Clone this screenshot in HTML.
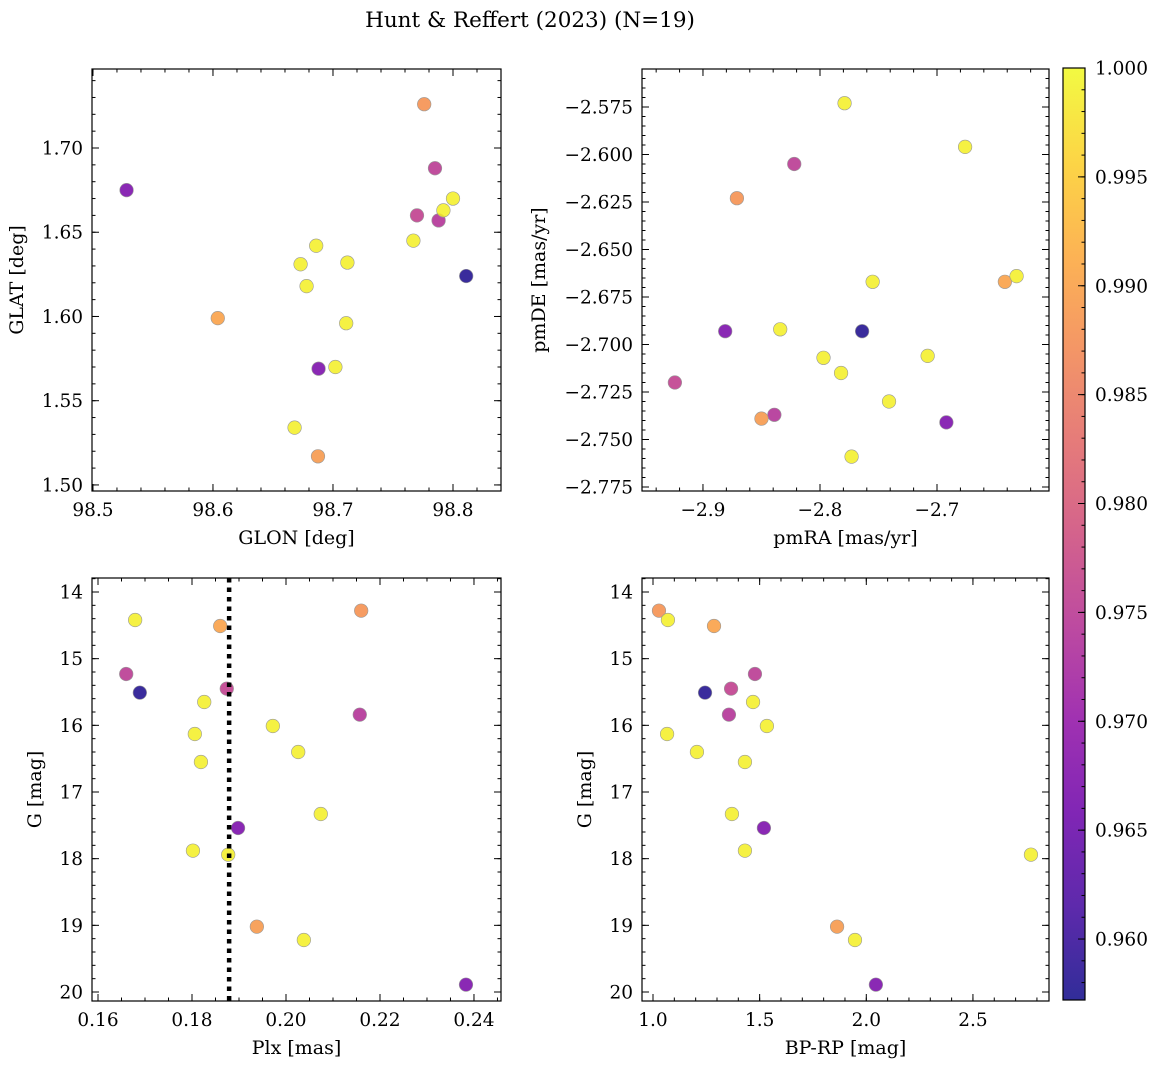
<!DOCTYPE html>
<html><head><meta charset="utf-8">
<style>
html,body{margin:0;padding:0;background:#fff;}
svg{display:block;font-family:"DejaVu Serif","Liberation Serif",serif;}
</style></head>
<body>
<svg id="fig" width="1161" height="1068" viewBox="0 0 1161 1068">
<text x="530" y="27" font-size="21.5" text-anchor="middle">Hunt &amp; Reffert (2023) (N=19)</text>
</svg>
<script>
// ---- data ----
const prob = [0.958,0.967,0.967,0.975,0.976,0.974,0.988,0.990,0.989,0.999,0.999,0.999,0.999,0.999,0.999,0.999,0.999,0.999,0.999];
const glon = [98.811,98.528,98.688,98.785,98.770,98.788,98.776,98.604,98.6875,98.800,98.792,98.767,98.686,98.673,98.712,98.678,98.711,98.702,98.668];
const glat = [1.624,1.675,1.569,1.688,1.660,1.657,1.726,1.599,1.517,1.670,1.663,1.645,1.642,1.631,1.632,1.618,1.596,1.570,1.534];
const pmra = [-2.764,-2.881,-2.692,-2.822,-2.924,-2.839,-2.871,-2.642,-2.850,-2.779,-2.676,-2.755,-2.632,-2.834,-2.797,-2.782,-2.708,-2.741,-2.773];
const pmde = [-2.693,-2.693,-2.741,-2.605,-2.720,-2.737,-2.623,-2.667,-2.739,-2.573,-2.596,-2.667,-2.664,-2.692,-2.707,-2.715,-2.706,-2.730,-2.759];
const plx  = [0.1689,0.1898,0.2383,0.1660,0.1874,0.2157,0.2160,0.1860,0.1938,0.1679,0.1826,0.1972,0.1806,0.2026,0.1819,0.2074,0.1802,0.1877,0.2038];
const gmag = [15.51,17.54,19.89,15.23,15.45,15.84,14.28,14.51,19.02,14.42,15.65,16.01,16.13,16.40,16.55,17.33,17.88,17.94,19.22];
const bprp = [1.244,1.520,2.045,1.478,1.366,1.356,1.028,1.286,1.863,1.070,1.469,1.534,1.066,1.206,1.431,1.370,1.431,2.772,1.947];
const meanPlx = 0.1879;
const cbTicks = [0.960,0.965,0.970,0.975,0.980,0.985,0.990,0.995,1.000];
const vmin = 0.9572, vmax = 1.0;

const NS="http://www.w3.org/2000/svg";
const svg=document.getElementById('fig');
function mk(tag,attrs,parent){const e=document.createElementNS(NS,tag);for(const k in attrs)e.setAttribute(k,attrs[k]);(parent||svg).appendChild(e);return e;}

const plasma=[[13,8,135],[65,4,157],[106,0,168],[143,13,164],[177,42,144],[204,71,120],[225,100,98],[242,132,75],[252,166,54],[252,206,37],[240,249,33]];
function cmap(v){let t=(v-vmin)/(vmax-vmin);t=Math.max(0,Math.min(1,t));const p=t*10,i=Math.min(9,Math.floor(p)),f=p-i;
 const c=plasma[i].map((a,k)=>Math.round(a+(plasma[i+1][k]-a)*f));return `rgb(${c[0]},${c[1]},${c[2]})`;}

function fmt(v,d){return v.toFixed(d).replace('-','\u2212');}
const TFS=18.5, LFS=19;

function panel(o){
 const g=mk('g',{},svg);
 
 
 const sx=v=>o.x0+(v-o.xmin)/(o.xmax-o.xmin)*(o.x1-o.x0);
 const sy=o.inv? v=>o.y0+(v-o.ymin)/(o.ymax-o.ymin)*(o.y1-o.y0) : v=>o.y1-(v-o.ymin)/(o.ymax-o.ymin)*(o.y1-o.y0);
 for(let i=0;i<o.xs.length;i++){
  const c=mk('circle',{cx:sx(o.xs[i]),cy:sy(o.ys[i]),r:6.8,fill:cmap(prob[i]),'fill-opacity':0.85,stroke:'#999','stroke-width':0.6},g);
  
  
 }
 if(o.vline!==undefined){
  const l=mk('line',{x1:sx(o.vline),x2:sx(o.vline),y1:o.y0,y2:o.y1,stroke:'#000','stroke-width':4.5,'stroke-dasharray':'4.5 5'},g);
  
  
 }
 const tg=mk('g',{stroke:'#000','stroke-width':1},g);
 const eps=1e-9;
 function each(min,max,step,f){let s=Math.ceil((min-eps)/step);for(let v=s*step;v<=max+eps;v=(++s)*step)f(v);}
 each(o.xmin,o.xmax,o.xminor,v=>{const x=sx(v);mk('line',{x1:x,x2:x,y1:o.y1,y2:o.y1-3.5},tg);mk('line',{x1:x,x2:x,y1:o.y0,y2:o.y0+3.5},tg);});
 each(o.ymin,o.ymax,o.yminor,v=>{const y=sy(v);mk('line',{x1:o.x0,x2:o.x0+3.5,y1:y,y2:y},tg);mk('line',{x1:o.x1,x2:o.x1-3.5,y1:y,y2:y},tg);});
 each(o.xmin,o.xmax,o.xmajor,v=>{const x=sx(v);mk('line',{x1:x,x2:x,y1:o.y1,y2:o.y1-7},tg);mk('line',{x1:x,x2:x,y1:o.y0,y2:o.y0+7},tg);
  const t=mk('text',{x:x,y:o.y1+25,'font-size':TFS,'text-anchor':'middle'},g);t.textContent=fmt(v,o.xd);
  });
 each(o.ymin,o.ymax,o.ymajor,v=>{const y=sy(v);mk('line',{x1:o.x0,x2:o.x0+7,y1:y,y2:y},tg);mk('line',{x1:o.x1,x2:o.x1-7,y1:y,y2:y},tg);
  const t=mk('text',{x:o.x0-9,y:y+6.5,'font-size':TFS,'text-anchor':'end'},g);t.textContent=fmt(v,o.yd);
  });
 const fr=mk('rect',{x:o.x0,y:o.y0,width:o.x1-o.x0,height:o.y1-o.y0,fill:'none',stroke:'#000','stroke-width':1.2},g);
 
 const xl=mk('text',{x:(o.x0+o.x1)/2,y:o.y1+53,'font-size':LFS,'text-anchor':'middle'},g);xl.textContent=o.xlabel;
 
 const cy=(o.y0+o.y1)/2;
 const yl=mk('text',{x:o.ylx,y:cy,'font-size':LFS,'text-anchor':'middle',transform:`rotate(-90 ${o.ylx} ${cy})`},g);yl.textContent=o.ylabel;
 
}

panel({name:'glon-glat-panel',x0:92,x1:501,y0:69,y1:491,xmin:98.4992,xmax:98.8400,ymin:1.4964,ymax:1.7469,xmajor:0.1,xminor:0.02,ymajor:0.05,yminor:0.01,xd:1,yd:2,xs:glon,ys:glat,xlabel:'GLON [deg]',ylabel:'GLAT [deg]',ylx:23});
panel({name:'pm-panel',x0:642,x1:1049,y0:69,y1:491,xmin:-2.9521,xmax:-2.6043,ymin:-2.7771,ymax:-2.5550,xmajor:0.1,xminor:0.02,ymajor:0.025,yminor:0.005,xd:1,yd:3,xs:pmra,ys:pmde,xlabel:'pmRA [mas/yr]',ylabel:'pmDE [mas/yr]',ylx:545});
panel({name:'plx-g-panel',x0:92,x1:501,y0:578,y1:1001,xmin:0.15872,xmax:0.24575,ymin:13.79,ymax:20.135,inv:true,xmajor:0.02,xminor:0.005,ymajor:1,yminor:0.2,xd:2,yd:0,xs:plx,ys:gmag,vline:meanPlx,xlabel:'Plx [mas]',ylabel:'G [mag]',ylx:41});
panel({name:'color-magnitude-panel',x0:642,x1:1049,y0:578,y1:1001,xmin:0.9484,xmax:2.8566,ymin:13.79,ymax:20.135,inv:true,xmajor:0.5,xminor:0.1,ymajor:1,yminor:0.2,xd:1,yd:0,xs:bprp,ys:gmag,xlabel:'BP-RP [mag]',ylabel:'G [mag]',ylx:591});

(function(){
 const x0=1063,x1=1085,y0=68,y1=1000;
 const g=mk('g',{},svg);
 
 
 const defs=mk('defs',{},g);
 const lg=mk('linearGradient',{id:'cbg',x1:0,y1:1,x2:0,y2:0},defs);
 for(let i=0;i<=20;i++){const v=vmin+(vmax-vmin)*i/20;mk('stop',{offset:(i/20),'stop-color':cmap(v),'stop-opacity':0.85},lg);}
 mk('rect',{x:x0,y:y0,width:x1-x0,height:y1-y0,fill:'url(#cbg)'},g);
 const sy=v=>y1-(v-vmin)/(vmax-vmin)*(y1-y0);
 for(let k=Math.ceil(vmin*1000-1e-6);k<=1000;k++){const y=sy(k/1000);mk('line',{x1:x1,x2:x1-3.5,y1:y,y2:y,stroke:'#000'},g);}
 cbTicks.forEach(v=>{const y=sy(v);mk('line',{x1:x1,x2:x1-7,y1:y,y2:y,stroke:'#000'},g);
  const t=mk('text',{x:x1+10,y:y+6.5,'font-size':TFS},g);t.textContent=v.toFixed(3);
  });
 mk('rect',{x:x0,y:y0,width:x1-x0,height:y1-y0,fill:'none',stroke:'#000','stroke-width':1.2},g);
})();
</script>
</body></html>
